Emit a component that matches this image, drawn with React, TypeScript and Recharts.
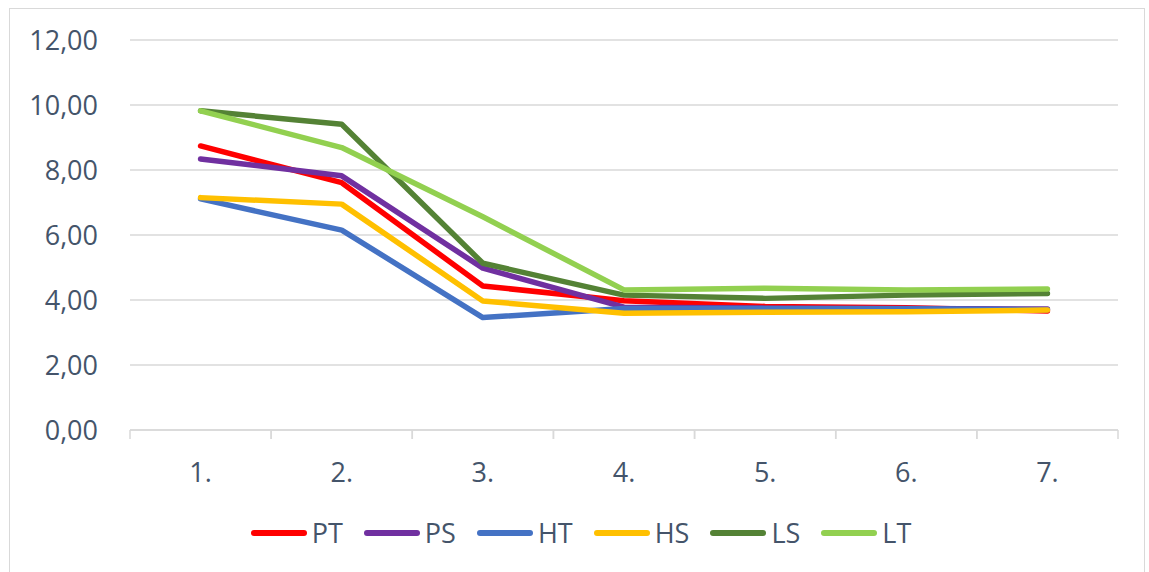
import React from 'react';
import { LineChart, Line, XAxis, YAxis, CartesianGrid, Legend } from 'recharts';

const categories = ['1.', '2.', '3.', '4.', '5.', '6.', '7.'];
const PT = [8.74, 7.61, 4.43, 3.98, 3.8, 3.76, 3.66];
const PS = [8.34, 7.82, 4.98, 3.78, 3.75, 3.74, 3.72];
const HT = [7.11, 6.15, 3.46, 3.74, 3.74, 3.73, 3.7];
const HS = [7.15, 6.95, 3.97, 3.59, 3.62, 3.64, 3.69];
const LS = [9.82, 9.41, 5.13, 4.15, 4.05, 4.15, 4.2];
const LT = [9.82, 8.69, 6.56, 4.31, 4.36, 4.31, 4.34];
const yTicks = [0, 2, 4, 6, 8, 10, 12];

const seriesNames = ['PT', 'PS', 'HT', 'HS', 'LS', 'LT'];
const seriesValues = [PT, PS, HT, HS, LS, LT];
const seriesColors = ['#FF0000', '#7030A0', '#4472C4', '#FFC000', '#548235', '#92D050'];

const data = categories.map((c, i) => {
  const row: Record<string, string | number> = { name: c };
  seriesNames.forEach((s, k) => {
    row[s] = seriesValues[k][i];
  });
  return row;
});

const W = 1149;
const H = 572;
const M = { top: 40, right: 31, left: 30, bottom: 24 };
const Y_W = 100;
const HALF_BAND = (W - M.left - M.right - Y_W) / categories.length / 2;
const FONT = '"Open Sans", "Liberation Sans", sans-serif';
const TEXT = '#44546A';
const GRID = '#D9D9D9';

const XTick = (props: any) => {
  const { x, y, payload } = props;
  return (
    <g>
      <line x1={x - HALF_BAND} x2={x - HALF_BAND} y1={y} y2={y + 9} stroke={GRID} strokeWidth={1.5} />
      <line x1={x + HALF_BAND} x2={x + HALF_BAND} y1={y} y2={y + 9} stroke={GRID} strokeWidth={1.5} />
      <text x={x} y={y + 52} textAnchor="middle" fill={TEXT} fontSize={27} fontFamily={FONT}>
        {payload.value}
      </text>
    </g>
  );
};

const LegendContent = () => (
  <div
    style={{
      display: 'flex',
      justifyContent: 'center',
      alignItems: 'center',
      height: 30,
      paddingLeft: 14,
      fontFamily: FONT,
      fontSize: 27,
      color: TEXT,
    }}
  >
    {seriesNames.map((s, k) => (
      <div key={s} style={{ display: 'flex', alignItems: 'center', marginRight: k < seriesNames.length - 1 ? 21 : 0 }}>
        <svg width={56} height={10} style={{ display: 'block' }}>
          <line x1={3} x2={53} y1={5} y2={5} stroke={seriesColors[k]} strokeWidth={6} strokeLinecap="round" />
        </svg>
        <span style={{ marginLeft: 5, lineHeight: '30px' }}>{s}</span>
      </div>
    ))}
  </div>
);

export default function App() {
  return (
    <div style={{ position: 'absolute', left: 0, top: 0, width: W, height: H, background: '#fff' }}>
      <div
        style={{
          position: 'absolute',
          left: 9,
          top: 8,
          width: 1136,
          height: 600,
          border: `1px solid ${GRID}`,
          boxSizing: 'border-box',
        }}
      />
      <div style={{ position: 'absolute', left: 0, top: 0 }}>
        <LineChart width={W} height={H} data={data} margin={M}>
          <CartesianGrid vertical={false} stroke={GRID} strokeWidth={1.5} />
          <XAxis
            dataKey="name"
            stroke={GRID}
            strokeWidth={1.5}
            tickLine={false}
            tickSize={0}
            tickMargin={0}
            height={88}
            tick={<XTick />}
            interval={0}
            padding={{ left: HALF_BAND, right: HALF_BAND }}
          />
          <YAxis
            domain={[0, 12]}
            ticks={yTicks}
            width={Y_W}
            axisLine={false}
            tickLine={false}
            tickSize={0}
            tickMargin={32}
            tickFormatter={(v: number) => v.toFixed(2).replace('.', ',')}
            tick={{ fill: TEXT, fontSize: 27, fontFamily: FONT }}
          />
          <Legend verticalAlign="bottom" height={30} content={<LegendContent />} />
          {seriesNames.map((s, k) => (
            <Line
              key={s}
              type="linear"
              dataKey={s}
              stroke={seriesColors[k]}
              strokeWidth={5.5}
              strokeLinecap="round"
              strokeLinejoin="round"
              dot={false}
              activeDot={false}
              isAnimationActive={false}
            />
          ))}
        </LineChart>
      </div>
    </div>
  );
}
